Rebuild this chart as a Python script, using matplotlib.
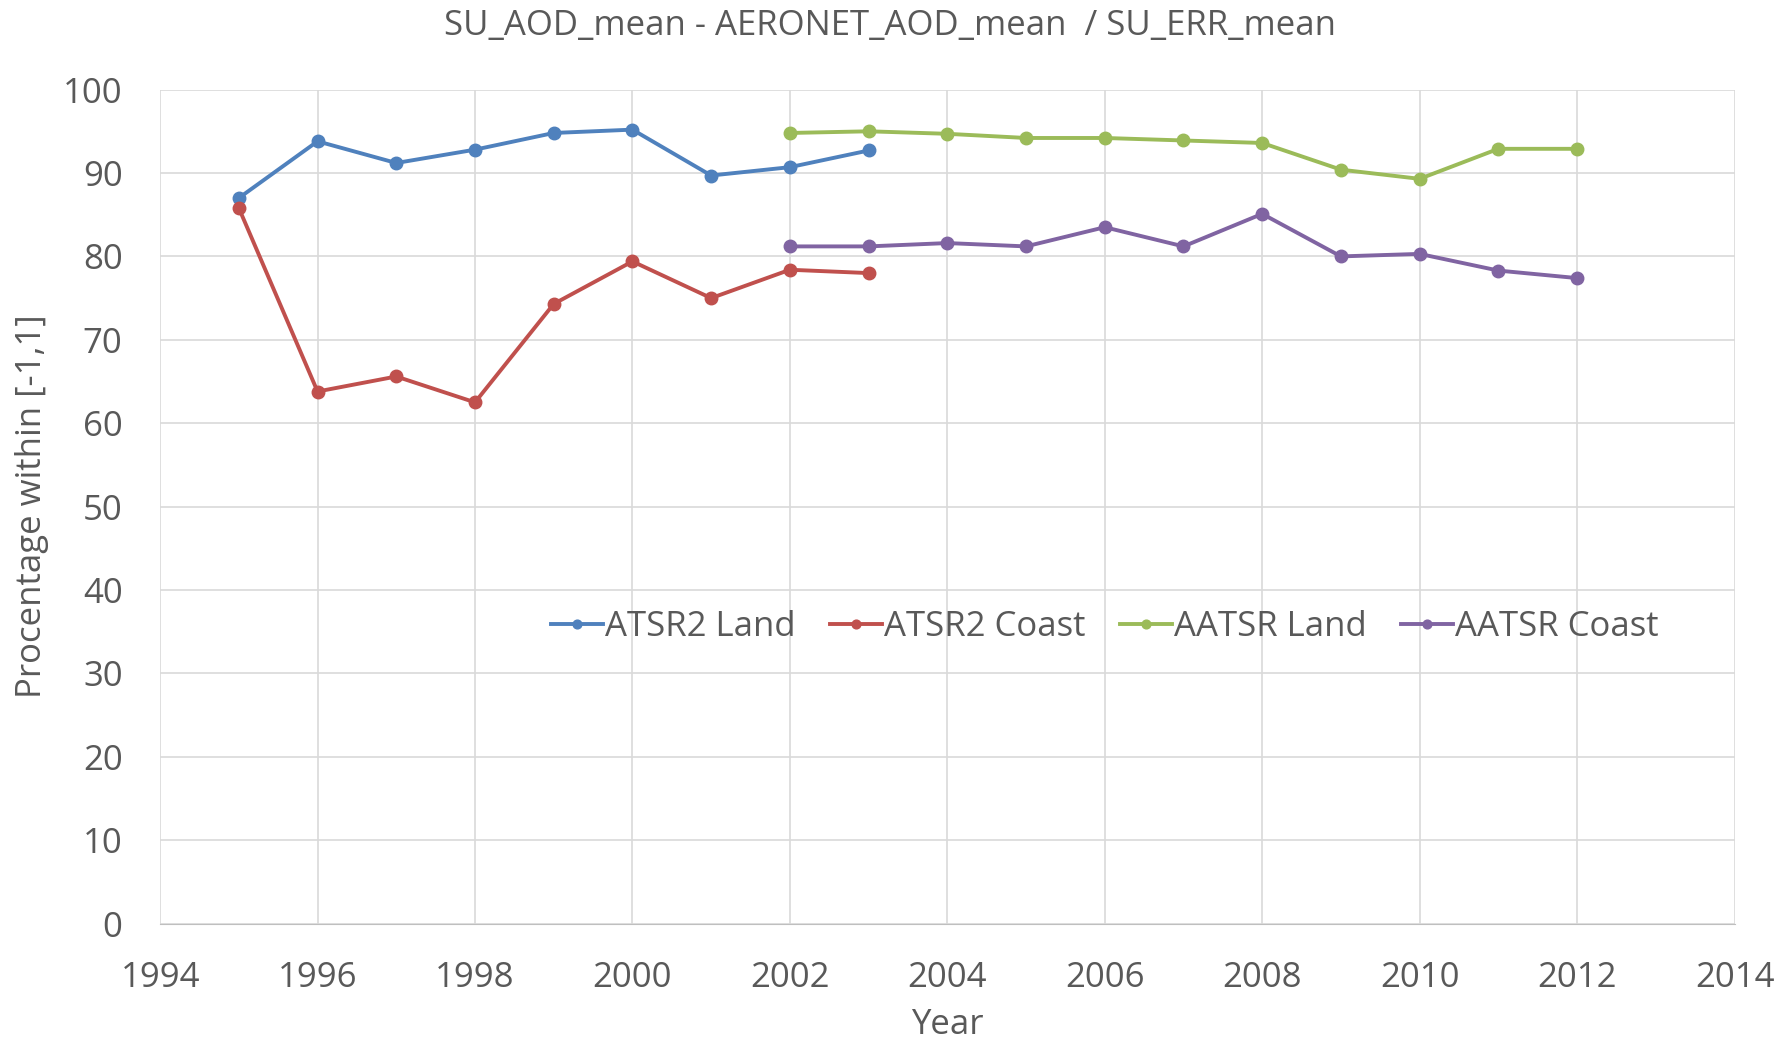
import matplotlib.pyplot as plt

years_atsr2 = [1995, 1996, 1997, 1998, 1999, 2000, 2001, 2002, 2003]
atsr2_land = [87.0, 93.8, 91.2, 92.8, 94.8, 95.2, 89.7, 90.7, 92.7]
atsr2_coast = [85.8, 63.8, 65.6, 62.5, 74.3, 79.4, 75.0, 78.4, 78.0]

years_aatsr = [2002, 2003, 2004, 2005, 2006, 2007, 2008, 2009, 2010, 2011, 2012]
aatsr_land = [94.8, 95.0, 94.7, 94.2, 94.2, 93.9, 93.6, 90.4, 89.3, 92.9, 92.9]
aatsr_coast = [81.2, 81.2, 81.6, 81.2, 83.5, 81.2, 85.1, 80.0, 80.3, 78.3, 77.4]

plt.rcParams['font.family'] = ['Open Sans', 'DejaVu Sans']
text_color = '#595959'
fs = 25

fig = plt.figure(figsize=(17.79, 10.48), dpi=100)
ax = fig.add_axes([0.090, 0.1187, 0.885, 0.7958])

ax.plot(years_atsr2, atsr2_land, marker='o', color='#4F81BD', lw=2.8, ms=9, label='ATSR2 Land')
ax.plot(years_atsr2, atsr2_coast, marker='o', color='#C0504D', lw=2.8, ms=9, label='ATSR2 Coast')
ax.plot(years_aatsr, aatsr_land, marker='o', color='#9BBB59', lw=2.8, ms=9, label='AATSR Land')
ax.plot(years_aatsr, aatsr_coast, marker='o', color='#8064A2', lw=2.8, ms=9, label='AATSR Coast')

ax.set_xlim(1994, 2014)
ax.set_ylim(0, 100)
ax.set_xticks(range(1994, 2015, 2))
ax.set_yticks(range(0, 101, 10))
ax.grid(True, color='#d9d9d9', lw=1.2)
ax.set_axisbelow(True)
for s in ['top', 'right', 'left']:
    ax.spines[s].set_visible(False)
ax.spines['bottom'].set_color('#bfbfbf')
ax.tick_params(axis='x', length=0, labelsize=fs, colors=text_color, pad=27)
ax.tick_params(axis='y', length=0, labelsize=fs, colors=text_color, pad=27)

ax.set_xlabel('Year', fontsize=fs, color=text_color, labelpad=9)
ax.set_ylabel('Procentage within [-1,1]', fontsize=fs, color=text_color, labelpad=10)
fig.text(0.5, 0.975, 'SU_AOD_mean - AERONET_AOD_mean  / SU_ERR_mean', fontsize=fs,
         color=text_color, ha='center', va='center')

ax.legend(loc='center', bbox_to_anchor=(0.60, 0.356), ncol=4, frameon=False,
          fontsize=fs, labelcolor=text_color, handlelength=1.5, handletextpad=0.05,
          columnspacing=1.0, markerscale=0.7)

fig.savefig('out.png', dpi=100)
